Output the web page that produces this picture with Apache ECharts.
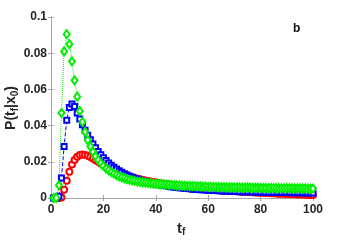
<!DOCTYPE html>
<html><head><meta charset="utf-8">
<script src="https://cdn.jsdelivr.net/npm/echarts@6/dist/echarts.min.js"></script>
<style>html,body{margin:0;padding:0;background:#fff}#c{width:346px;height:242px}</style>
</head><body><div id="c"></div>
<script>
const xTicks = [0, 20, 40, 60, 80, 100];
const yTicks = [0, 0.02, 0.04, 0.06, 0.08, 0.1];
const tValues = Array.from({length: 100}, (_, i) => i + 1);
const redValues = [
0,0,0,0.0003,0.0045,0.0095,0.0145,0.0185,0.021,0.0228,
0.0237,0.024,0.0238,0.0233,0.0226,0.0218,0.0209,0.0200,0.0191,0.0182,
0.0174,0.0166,0.0159,0.0152,0.0146,0.0140,0.0134,0.0129,0.0124,0.0119,
0.0115,0.0111,0.0107,0.0103,0.0100,0.0097,0.0094,0.0091,0.0088,0.0085,
0.0083,0.0080,0.0078,0.0076,0.0074,0.0072,0.0070,0.0068,0.0066,0.0064,
0.0062,0.0061,0.0059,0.0058,0.0056,0.0055,0.0053,0.0052,0.0051,0.0049,
0.0048,0.0047,0.0046,0.0044,0.0043,0.0042,0.0041,0.0040,0.0039,0.0038,
0.0037,0.0036,0.0035,0.0034,0.0033,0.0033,0.0032,0.0031,0.0030,0.0029,
0.0029,0.0028,0.0027,0.0026,0.0026,0.0025,0.0024,0.0024,0.0023,0.0022,
0.0022,0.0021,0.0021,0.0020,0.0019,0.0019,0.0018,0.0018,0.0017,0.0017];
const blueValues = [
0,0,0.001,0.011,0.0285,0.043,0.050,0.052,0.0505,0.047,
0.0437,0.0405,0.0375,0.0347,0.0322,0.0298,0.0277,0.0257,0.0239,0.0222,
0.0207,0.0193,0.0181,0.0170,0.0160,0.0150,0.0142,0.0134,0.0127,0.0120,
0.0114,0.0108,0.0103,0.0098,0.0094,0.0090,0.0086,0.0083,0.0080,0.0077,
0.0074,0.0071,0.0069,0.0067,0.0064,0.0062,0.0060,0.0058,0.0057,0.0055,
0.0053,0.0052,0.0051,0.0049,0.0048,0.0047,0.0046,0.0045,0.0044,0.0043,
0.0042,0.0041,0.0041,0.0040,0.0039,0.0039,0.0038,0.0037,0.0037,0.0036,
0.0036,0.0035,0.0035,0.0034,0.0034,0.0034,0.0033,0.0033,0.0033,0.0032,
0.0032,0.0032,0.0031,0.0031,0.0031,0.0031,0.0030,0.0030,0.0030,0.0030,
0.0030,0.0029,0.0029,0.0029,0.0029,0.0029,0.0028,0.0028,0.0028,0.0028];
const greenValues = [
0,0,0.007,0.047,0.081,0.0905,0.085,0.0755,0.065,0.056,
0.048,0.042,0.0365,0.032,0.0285,0.0255,0.023,0.021,0.0192,0.0177,
0.0164,0.0153,0.0143,0.0135,0.0127,0.0120,0.0114,0.0109,0.0104,0.0100,
0.0097,0.0094,0.0091,0.0089,0.0087,0.0085,0.0083,0.0081,0.0080,0.0078,
0.0077,0.0076,0.0075,0.0074,0.0073,0.0072,0.0071,0.0070,0.0069,0.0068,
0.0067,0.0067,0.0066,0.0065,0.0065,0.0064,0.0064,0.0063,0.0063,0.0062,
0.0062,0.0061,0.0061,0.0060,0.0060,0.0060,0.0059,0.0059,0.0059,0.0058,
0.0058,0.0058,0.0057,0.0057,0.0057,0.0057,0.0056,0.0056,0.0056,0.0056,
0.0055,0.0055,0.0055,0.0055,0.0055,0.0054,0.0054,0.0054,0.0054,0.0054,
0.0054,0.0053,0.0053,0.0053,0.0053,0.0053,0.0053,0.0052,0.0052,0.0052];

const pairs = v => tValues.map((t, i) => [t, v[i]]);
const axisColor = '#a6a6a6';
const FONT = 'Liberation Sans, Arial, sans-serif';
const lblStyle = {color: '#262626', fontFamily: FONT, fontWeight: 'bold', fontSize: 12};
const chart = echarts.init(document.getElementById('c'), null, {renderer: 'canvas'});
const mk = (name, data, color, symbol, size, ltype) => ({
  name, type: 'line', data: pairs(data), symbol, symbolSize: size,
  showSymbol: true, animation: false,
  lineStyle: {color, width: 1, type: ltype},
  itemStyle: {color, borderColor: color, borderWidth: 1},
  z: 3
});
chart.setOption({
  animation: false,
  grid: {left: 51, right: 33, top: 17, bottom: 44, show: false},
  xAxis: [{
    type: 'value', min: 0, max: 100, interval: 20,
    axisLine: {show: true, lineStyle: {color: axisColor}},
    axisTick: {show: true, inside: true, length: 3, lineStyle: {color: axisColor}},
    axisLabel: Object.assign({margin: 6, formatter: v => xTicks.includes(v) ? String(v) : ''}, lblStyle),
    splitLine: {show: false}
  }, {
    type: 'value', min: 0, max: 100, interval: 20, position: 'top',
    axisLine: {show: true, lineStyle: {color: axisColor}},
    axisTick: {show: true, inside: true, length: 3, lineStyle: {color: axisColor}},
    axisLabel: {show: false}, splitLine: {show: false}
  }],
  yAxis: [{
    type: 'value', min: 0, max: 0.1, interval: 0.02,
    axisLine: {show: true, lineStyle: {color: axisColor}},
    axisTick: {show: true, inside: true, length: 3, lineStyle: {color: axisColor}},
    axisLabel: Object.assign({margin: 4, formatter: v => { const r = Math.round(v*100)/100; return yTicks.some(y => Math.abs(y-r)<1e-9) ? String(r) : ''; }}, lblStyle),
    splitLine: {show: false}
  }, {
    type: 'value', min: 0, max: 0.1, interval: 0.02, position: 'right',
    axisLine: {show: true, lineStyle: {color: axisColor}},
    axisTick: {show: true, inside: true, length: 3, lineStyle: {color: axisColor}},
    axisLabel: {show: false}, splitLine: {show: false}
  }],
  graphic: [
    {type: 'text', left: 177, top: 221, style: {
      text: '{m|t}{s|f}', rich: {
        m: {fontSize: 15, fontWeight: 'bold', fontFamily: FONT, fill: '#262626'},
        s: {fontSize: 10, fontWeight: 'bold', fontFamily: FONT, fill: '#262626', padding: [8,0,0,0]}
      }}},
    {type: 'text', x: 11, y: 108, rotation: Math.PI/2, style: {
      text: '{m|P(t}{s|f}{m||x}{s|0}{m|)}', align: 'center', verticalAlign: 'middle', rich: {
        m: {fontSize: 14, fontWeight: 'bold', fontFamily: FONT, fill: '#262626'},
        s: {fontSize: 10, fontWeight: 'bold', fontFamily: FONT, fill: '#262626', padding: [8,0,0,0]}
      }}},
    {type: 'text', left: 293, top: 23, style: {text: 'b', fontSize: 12, fontWeight: 'bold', fontFamily: FONT, fill: '#111'}}
  ],
  series: [
    mk('red', redValues, '#ff0000', 'emptyCircle', 6, 'solid'),
    mk('blue', blueValues, '#0000ff', 'emptyRect', 5, 'dashed'),
    mk('green', greenValues, '#00ee00', 'emptyDiamond', [6, 8], 'dotted')
  ]
});
</script></body></html>
